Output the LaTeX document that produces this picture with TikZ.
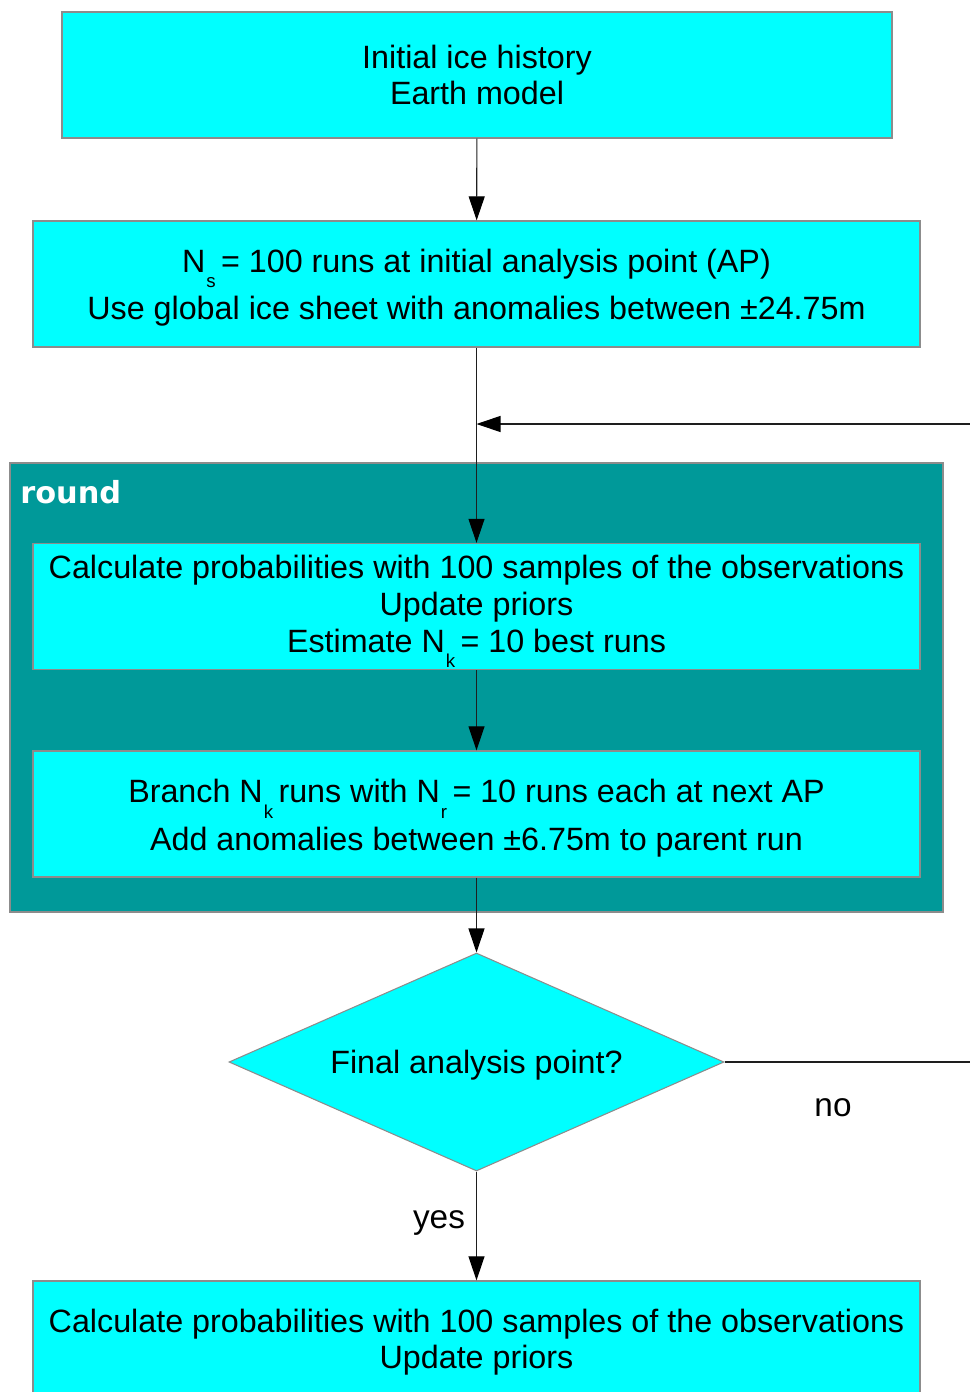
\documentclass[tikz,border=0pt]{standalone}
\usepackage{fontspec}
\setmainfont{Liberation Sans}
\newfontfamily\labelfont{DejaVu Sans}
\usetikzlibrary{shapes.geometric,arrows.meta}

\definecolor{boxcyan}{RGB}{0,255,255}
\definecolor{roundteal}{RGB}{0,153,153}
\definecolor{edgegray}{RGB}{140,140,140}
\definecolor{linegray}{RGB}{30,30,30}

% lowered small index after a capital N
\newcommand\lowidx[1]{\kern0.8pt\smash{\raisebox{-11.5pt}{\fontsize{14}{14}\selectfont #1}}\kern4pt}

\tikzset{
  stepbox/.style={rectangle, fill=boxcyan, draw=edgegray, line width=1pt,
    inner sep=0pt, minimum height=94.5pt},
  widebox/.style={stepbox, minimum width=665.25pt},
  boxtext/.style={inner sep=0pt, align=center,
    font=\fontsize{24.2}{27.5}\selectfont},
  decision/.style={diamond, fill=boxcyan, draw=edgegray, line width=0.8pt,
    inner sep=0pt, shape aspect=2.27, minimum width=371.25pt, minimum height=163.5pt},
  conn/.style={draw=linegray, line width=0.8pt,
    -{Triangle[length=18pt,width=12pt,color=black]}},
  plainline/.style={draw=linegray, line width=0.8pt},
  answer/.style={inner sep=0pt, font=\fontsize{25}{28}\selectfont}
}

\begin{document}
\begin{tikzpicture}[x=0.75pt,y=-0.75pt]
\useasboundingbox (0,0) rectangle (970,1392);
\clip (0,0) rectangle (970,1392);

% loop container
\node[rectangle, fill=roundteal, draw=edgegray, line width=1pt,
      minimum width=699.75pt, minimum height=336.75pt, inner sep=0pt]
      (round) at (476.5,687.5) {};
\node[anchor=base west, inner sep=0pt, text=white,
      font=\labelfont\bfseries\fontsize{22.8}{26}\selectfont]
      (roundlabel) at (20,503) {round};

% process steps
\node[stepbox, minimum width=622.5pt,
      label={[boxtext]center:{Initial ice history\\Earth model}}]
      (init) at (477,75) {};
\node[widebox,
      label={[boxtext, yshift=-2.6pt]center:{N\lowidx{s} = 100 runs at initial analysis point (AP)\\[8pt]
        Use global ice sheet with anomalies between ±24.75m}}]
      (start) at (476.5,284) {};
\node[widebox,
      label={[boxtext, yshift=1.9pt]center:{Calculate probabilities with 100 samples of the observations\\
        Update priors\\
        Estimate N\lowidx{k} = 10 best runs}}]
      (calc) at (476.5,606.5) {};
\node[widebox,
      label={[boxtext, yshift=-3pt]center:{Branch N\lowidx{k} runs with N\lowidx{r} = 10 runs each at next AP\\[8pt]
        Add anomalies between ±6.75m to parent run}}]
      (branch) at (476.5,814) {};
\node[decision,
      label={[boxtext, yshift=-2.2pt]center:{Final analysis point?}}]
      (final) at (476.5,1062) {};
\node[widebox,
      label={[boxtext, yshift=1.5pt]center:{Calculate probabilities with 100 samples of the observations\\
        Update priors}}]
      (last) at (476.5,1344) {};

% loop return points
\coordinate (join) at (476.5,424);
\coordinate (loopin) at (970,424);
\coordinate (loopout) at (970,1062);

% connectors
\draw[conn] (init) -- (start);
\draw[conn] (start) -- (calc);
\draw[conn] (loopin) -- (join);
\draw[conn] (calc) -- (branch);
\draw[conn] (branch) -- (final);
\draw[conn] (final) -- (last);
\draw[plainline] (final.east) -- (loopout);

% branch labels
\node[answer] (no) at (833,1108) {no};
\node[answer] (yes) at (439,1223) {yes};
\end{tikzpicture}
\end{document}
